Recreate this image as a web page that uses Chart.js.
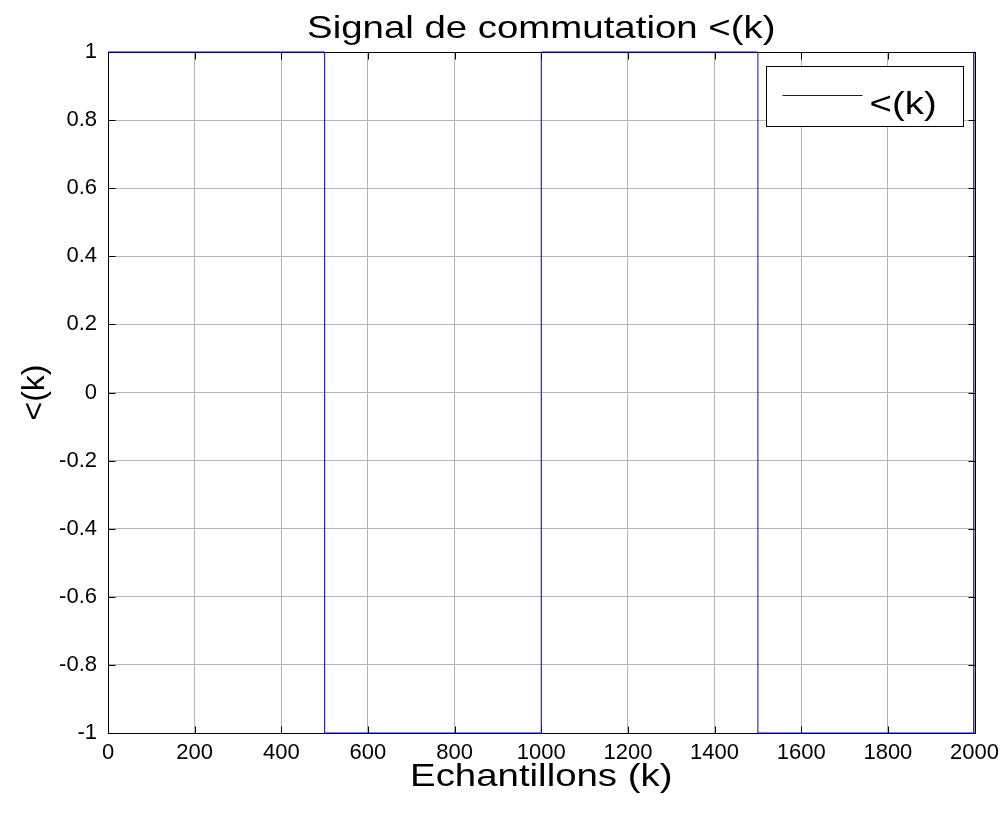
<!DOCTYPE html>
<html><head><meta charset="utf-8">
<script src="https://cdn.jsdelivr.net/npm/chart.js@4.4.1/dist/chart.umd.min.js"></script>
<style>html,body{margin:0;padding:0;background:#fff}canvas{display:block}</style>
</head><body>
<canvas id="c" width="1006" height="830"></canvas>
<script>
// ---- data ----
const switchSamples = [0, 500, 1000, 1500, 1998, 2000];   // k where the level changes
const switchLevels  = [1, -1, 1, -1, 1, 1];               // level from that k onward
const xTickValues = [0, 200, 400, 600, 800, 1000, 1200, 1400, 1600, 1800, 2000];
const yTickValues = [-1, -0.8, -0.6, -0.4, -0.2, 0, 0.2, 0.4, 0.6, 0.8, 1];
const seriesLabel = '<(k)';
const titleText = 'Signal de commutation <(k)';
const xTitle = 'Echantillons (k)';
const yTitle = '<(k)';

const FONT = '"Liberation Sans", Arial, Helvetica, sans-serif';
const TEXT_STRETCH = 1.2;   // the original figure's labels are horizontally widened

// draw fn's text (centred at fromX) widened and centred at toX
function stretchAround(ctx, fromX, toX, fn) {
  ctx.save();
  ctx.translate(toX, 0);
  ctx.scale(TEXT_STRETCH, 1);
  ctx.translate(-fromX, 0);
  fn();
  ctx.restore();
}

const boxPlugin = {
  id: 'matlabBox',
  beforeDraw(chart) {
    const ctx = chart.ctx;
    const tb = chart.titleBlock;
    if (tb && !tb._wrapped) {
      const orig = tb.draw;
      tb.draw = function () {
        const ca = chart.chartArea;
        stretchAround(ctx, (this.left + this.right) / 2, (ca.left + ca.right) / 2, () => orig.call(this));
      };
      tb._wrapped = true;
    }
    const xs = chart.scales.x;
    if (xs && !xs._wrapped) {
      const origT = xs.drawTitle;
      xs.drawTitle = function () {
        const c = (this.left + this.right) / 2;
        stretchAround(ctx, c, c, () => origT.call(this));
      };
      xs._wrapped = true;
    }
  },
  beforeDatasetsDraw(chart) {
    const {ctx, chartArea: ca, scales} = chart;
    ctx.save();
    ctx.strokeStyle = '#000';
    ctx.lineWidth = 1;
    const L = Math.round(ca.left) + 0.5, R = Math.round(ca.right) + 0.5;
    const T = Math.round(ca.top) + 0.5, B = Math.round(ca.bottom) + 0.5;
    ctx.strokeRect(L, T, R - L, B - T);
    const tl = 7;
    ctx.beginPath();
    xTickValues.forEach(v => {
      const px = Math.round(scales.x.getPixelForValue(v)) + 0.5;
      ctx.moveTo(px, B); ctx.lineTo(px, B - tl);
      ctx.moveTo(px, T); ctx.lineTo(px, T + tl);
    });
    yTickValues.forEach(v => {
      const py = Math.round(scales.y.getPixelForValue(v)) + 0.5;
      ctx.moveTo(L, py); ctx.lineTo(L + tl, py);
      ctx.moveTo(R, py); ctx.lineTo(R - tl, py);
    });
    ctx.stroke();
    ctx.restore();
  },
  afterDatasetsDraw(chart) {
    const {ctx, chartArea: ca} = chart;
    const ds = chart.data.datasets[0];
    const bx = Math.round(ca.right) - 209 + 0.5, by = Math.round(ca.top) + 14 + 0.5;
    const bw = 197, bh = 60;
    ctx.save();
    ctx.fillStyle = '#fff';
    ctx.fillRect(bx, by, bw, bh);
    ctx.strokeStyle = '#000';
    ctx.lineWidth = 1;
    ctx.strokeRect(bx, by, bw, bh);
    ctx.strokeStyle = ds.borderColor;
    ctx.beginPath();
    ctx.moveTo(bx + 16, by + 29); ctx.lineTo(bx + 96, by + 29);
    ctx.stroke();
    ctx.fillStyle = '#000';
    ctx.font = '32px ' + FONT;
    ctx.textBaseline = 'middle';
    ctx.textAlign = 'left';
    stretchAround(ctx, bx + 103, bx + 103, () => ctx.fillText(ds.label, bx + 103, by + 39));
    ctx.restore();
  }
};

new Chart(document.getElementById('c'), {
  type: 'line',
  data: {
    datasets: [{
      label: seriesLabel,
      data: switchSamples.map((k, i) => ({x: k, y: switchLevels[i]})),
      stepped: true,
      borderColor: '#0000ff',
      borderWidth: 1,
      pointRadius: 0,
      fill: false,
      clip: 3
    }]
  },
  options: {
    responsive: false,
    devicePixelRatio: 1,
    animation: false,
    layout: {padding: {top: 0, right: 31, bottom: 0, left: 0}},
    plugins: {
      legend: {display: false},
      tooltip: {enabled: false},
      title: {
        display: true,
        text: titleText,
        color: '#000',
        font: {family: FONT, size: 32, weight: 'normal', lineHeight: 38 / 32},
        padding: {top: 10, bottom: 4}
      }
    },
    scales: {
      x: {
        type: 'linear', min: 0, max: 2000,
        afterBuildTicks: s => { s.ticks = xTickValues.map(v => ({value: v})); },
        afterFit: s => { s.height = 97; },
        ticks: {color: '#000', padding: 7, maxRotation: 0, autoSkip: false,
                font: {family: FONT, size: 22}, callback: v => String(v)},
        grid: {color: '#b4b4b4', lineWidth: 1, drawTicks: false},
        border: {display: false},
        title: {display: true, text: xTitle, color: '#000',
                font: {family: FONT, size: 32, lineHeight: 1.2}, padding: {top: 0, bottom: 34}}
      },
      y: {
        type: 'linear', min: -1, max: 1,
        afterBuildTicks: s => { s.ticks = yTickValues.map(v => ({value: v})); },
        afterFit: s => { s.width = 108; },
        ticks: {color: '#000', padding: 11, autoSkip: false,
                font: {family: FONT, size: 22}, callback: v => String(+(+v).toFixed(1))},
        grid: {color: '#b4b4b4', lineWidth: 1, drawTicks: false},
        border: {display: false},
        title: {display: true, text: yTitle, color: '#000',
                font: {family: FONT, size: 32, lineHeight: 1.2}, padding: {top: 16, bottom: 0}}
      }
    }
  },
  plugins: [boxPlugin]
});
</script>
</body></html>
